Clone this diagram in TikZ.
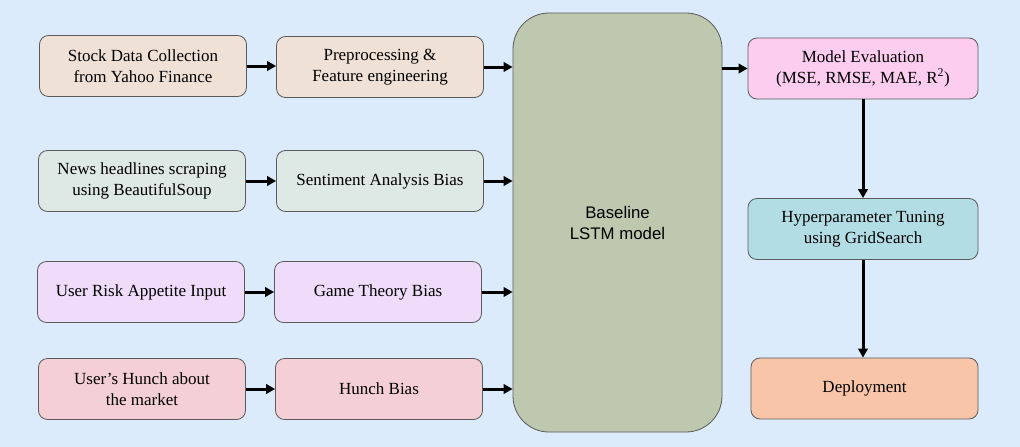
\documentclass[tikz,border=0pt]{standalone}
\usepackage{fontspec}
\setmainfont{Liberation Serif}
\setsansfont{Liberation Sans}
\usetikzlibrary{arrows.meta, positioning}
\definecolor{bgblue}{HTML}{DCEBFB}
\definecolor{stockc}{HTML}{F0E1D7}
\definecolor{newsc}{HTML}{DEE8E4}
\definecolor{riskc}{HTML}{EEDCFA}
\definecolor{hunchc}{HTML}{F5CFD6}
\definecolor{lstmc}{HTML}{BEC8AE}
\definecolor{evalc}{HTML}{FCCDEF}
\definecolor{tunec}{HTML}{B3DDE5}
\definecolor{deployc}{HTML}{F8C5A9}
\definecolor{edgec}{HTML}{5A5A5A}

\begin{document}
\begin{tikzpicture}[x=1pt, y=-1pt,
    box/.style={draw=edgec, line width=0.8pt, rounded corners=9pt, minimum width=207pt,
      minimum height=61pt, align=center, font=\fontsize{17}{21}\selectfont},
    lstmbox/.style={draw=edgec, line width=0.8pt, fill=lstmc, rounded corners=36pt,
      minimum width=209pt, minimum height=419pt, align=center,
      font=\sffamily\fontsize{16.8}{21}\selectfont},
    flow/.style={-{Triangle[length=9pt, width=9.5pt]}, line width=3pt}]
      \fill[bgblue] (0, 0) rectangle (1020, 447);
      \useasboundingbox (0, 0) rectangle (1020, 447);

      % inputs
      \node[box, fill=stockc] (stock) at (143, 66) {Stock Data Collection\\from Yahoo Finance};
      \node[box, fill=stockc] (prep) at (380, 67) {Preprocessing \&\\Feature engineering};
      \node[box, fill=newsc] (news) at (142, 181) {News headlines scraping\\using BeautifulSoup};
      \node[box, fill=newsc] (senti) at (380, 181) {Sentiment Analysis Bias};
      \node[box, fill=riskc] (risk) at (141, 292) {User Risk Appetite Input};
      \node[box, fill=riskc] (game) at (378, 292) {Game Theory Bias};
      \node[box, fill=hunchc] (hunch) at (142, 389) {User's Hunch about\\the market};
      \node[box, fill=hunchc] (hbias) at (379, 389) {Hunch Bias};

      % model
      \node[lstmbox] (lstm) at (617.5, 222.5) {Baseline\\ LSTM model};

      % outputs
      \node[box, fill=evalc, minimum width=230pt] (eval) at (863, 68.5) {Model Evaluation\\(MSE, RMSE, MAE, R\textsuperscript{2})};
      \node[box, fill=tunec, minimum width=230pt] (tune) at (863, 229) {Hyperparameter Tuning\\using GridSearch};
      \node[box, fill=deployc, minimum width=227pt] (deploy) at (864.5, 388.5) {Deployment};

      \draw[flow] (stock.east) -- (stock.east -| prep.west);
      \draw[flow] (news) -- (senti);
      \draw[flow] (risk.east) -- (risk.east -| game.west);
      \draw[flow] (hunch.east) -- (hunch.east -| hbias.west);

      \draw[flow] (prep.east) -- (prep.east -| lstm.west);
      \draw[flow] (senti.east) -- (senti.east -| lstm.west);
      \draw[flow] (game.east) -- (game.east -| lstm.west);
      \draw[flow] (hbias.east) -- (hbias.east -| lstm.west);

      \draw[flow] (lstm.east |- eval.west) -- (eval.west);
      \draw[flow] (eval) -- (tune);
      \draw[flow] (tune.south) -- (tune.south |- deploy.north);
\end{tikzpicture}
\end{document}
